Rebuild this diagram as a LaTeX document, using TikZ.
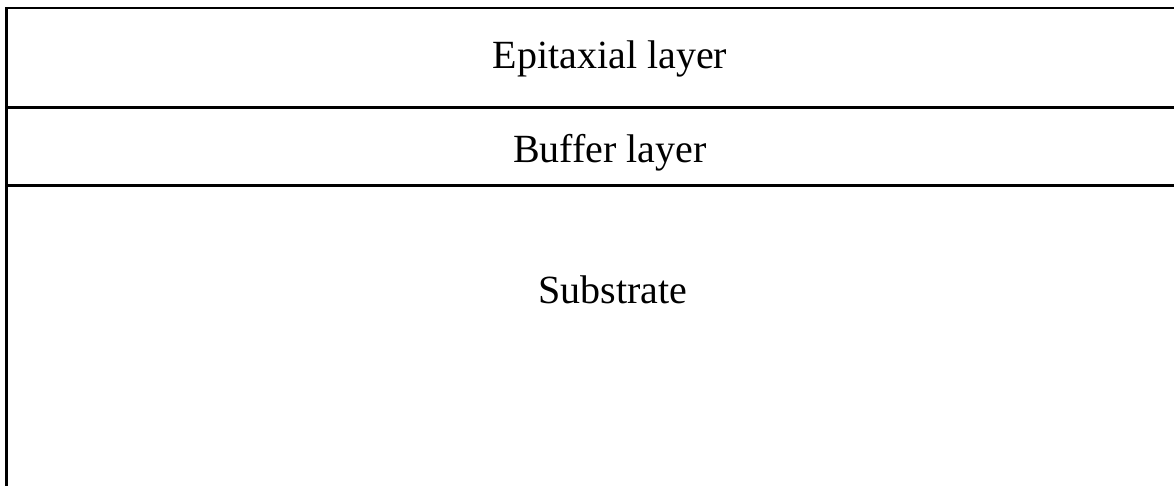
\documentclass[tikz,border=0pt]{standalone}
\usepackage{fontspec}
\setmainfont{Liberation Serif}
\begin{document}
\begin{tikzpicture}[x=1pt,y=-1pt,
  layerline/.style={line width=2.5pt,black},
  layerlabel/.style={anchor=base,inner sep=0pt,font=\fontsize{40}{47}\selectfont}]
\useasboundingbox (0,0) rectangle (1174,485);
\clip (0,0) rectangle (1174,485);
\fill[white] (0,0) rectangle (1174,485);
\draw[layerline] (6.5,495) -- (6.5,8) -- (1190,8);
\draw[layerline] (6.5,107.5) -- (1190,107.5);
\draw[layerline] (6.5,185.5) -- (1190,185.5);
\node[layerlabel] (epi) at (610,68) {Epitaxial layer};
\node[layerlabel] (buf) at (610,162) {Buffer layer};
\node[layerlabel] (sub) at (613,303) {Substrate};
\end{tikzpicture}
\end{document}
